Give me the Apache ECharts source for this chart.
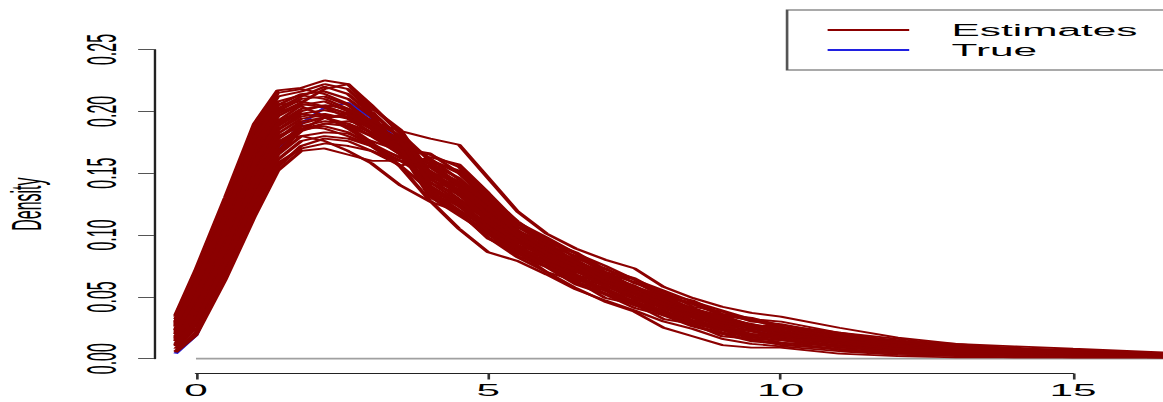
<!DOCTYPE html>
<html>
<head>
<meta charset="utf-8">
<script src="https://cdn.jsdelivr.net/npm/echarts@6/dist/echarts.min.js"></script>
<style>
html,body{margin:0;padding:0;overflow:hidden;background:#fff;width:1163px;height:402px;}
#c{width:439px;height:402px;transform:scaleX(2.6492);transform-origin:0 0;}
</style>
</head>
<body>
<div id="c"></div>
<script>
// ---- data ----
const xGrid = [-0.35, 0, 0.5, 1, 1.4, 1.8, 2.2, 2.6, 3, 3.5,
  4, 4.5, 5, 5.5, 6, 6.5, 7, 7.5, 8, 8.5, 9, 9.5, 10, 11, 12, 13, 14, 15, 16.6];

const est01 = [0.020,0.046,0.097,0.152,0.185,0.198,0.201,0.197,0.186,0.170, 0.149,0.134,0.118,0.097,0.086,0.071,0.063,0.052,0.045,0.035,0.029,0.024,0.020,0.014,0.010,0.007,0.005,0.004,0.002];
const est02 = [0.032,0.067,0.123,0.183,0.212,0.216,0.222,0.218,0.200,0.178, 0.143,0.127,0.112,0.090,0.081,0.066,0.059,0.048,0.041,0.031,0.026,0.019,0.017,0.012,0.007,0.006,0.004,0.003,0.002];
const est03 = [0.008,0.025,0.071,0.123,0.158,0.170,0.174,0.172,0.168,0.160, 0.151,0.142,0.118,0.101,0.086,0.077,0.063,0.057,0.045,0.039,0.030,0.027,0.021,0.016,0.010,0.008,0.006,0.005,0.003];
const est04 = [0.026,0.056,0.110,0.168,0.200,0.210,0.212,0.205,0.192,0.172, 0.136,0.120,0.105,0.086,0.077,0.062,0.055,0.044,0.037,0.028,0.023,0.016,0.015,0.009,0.006,0.004,0.003,0.002,0.001];
const est05 = [0.014,0.036,0.084,0.138,0.172,0.188,0.192,0.190,0.183,0.172, 0.157,0.141,0.124,0.100,0.091,0.075,0.068,0.056,0.049,0.038,0.033,0.026,0.024,0.016,0.012,0.008,0.007,0.005,0.003];
const est06 = [0.035,0.072,0.130,0.190,0.217,0.219,0.225,0.222,0.203,0.185, 0.150,0.132,0.116,0.094,0.084,0.070,0.062,0.050,0.043,0.034,0.028,0.022,0.019,0.013,0.009,0.006,0.005,0.004,0.002];
const est07 = [0.005,0.019,0.064,0.115,0.152,0.168,0.170,0.165,0.160,0.160, 0.161,0.150,0.127,0.107,0.092,0.083,0.069,0.062,0.050,0.044,0.035,0.031,0.025,0.019,0.013,0.010,0.008,0.006,0.003];
const est08 = [0.023,0.051,0.103,0.160,0.192,0.205,0.208,0.200,0.186,0.166, 0.140,0.125,0.109,0.089,0.079,0.065,0.057,0.046,0.039,0.030,0.025,0.018,0.016,0.011,0.007,0.005,0.004,0.003,0.002];
const est09 = [0.017,0.041,0.090,0.145,0.178,0.192,0.195,0.190,0.180,0.165, 0.152,0.136,0.120,0.097,0.087,0.073,0.064,0.053,0.046,0.036,0.031,0.024,0.022,0.014,0.011,0.007,0.006,0.004,0.003];
const est10 = [0.029,0.062,0.117,0.175,0.205,0.214,0.216,0.210,0.196,0.170, 0.133,0.118,0.102,0.085,0.075,0.061,0.053,0.043,0.036,0.027,0.021,0.015,0.013,0.008,0.005,0.003,0.003,0.002,0.001];
const est11 = [0.011,0.030,0.077,0.130,0.165,0.180,0.183,0.182,0.176,0.168, 0.158,0.146,0.123,0.104,0.090,0.080,0.067,0.059,0.048,0.041,0.033,0.028,0.024,0.017,0.012,0.009,0.007,0.005,0.003];
const est12 = [0.021,0.049,0.100,0.156,0.188,0.200,0.205,0.202,0.192,0.175, 0.146,0.129,0.113,0.092,0.083,0.068,0.060,0.049,0.042,0.033,0.027,0.020,0.018,0.012,0.008,0.006,0.004,0.003,0.002];
const est13 = [0.024,0.054,0.107,0.164,0.196,0.206,0.203,0.195,0.182,0.165, 0.138,0.123,0.107,0.087,0.078,0.064,0.056,0.045,0.038,0.029,0.024,0.017,0.015,0.010,0.006,0.004,0.003,0.002,0.002];
const est14 = [0.015,0.038,0.087,0.141,0.175,0.186,0.190,0.192,0.188,0.178, 0.162,0.145,0.128,0.103,0.094,0.078,0.070,0.058,0.051,0.040,0.035,0.027,0.026,0.018,0.013,0.009,0.007,0.006,0.003];
const est15 = [0.018,0.043,0.094,0.149,0.182,0.194,0.197,0.195,0.186,0.170, 0.147,0.137,0.114,0.098,0.083,0.074,0.061,0.054,0.042,0.037,0.027,0.025,0.019,0.015,0.009,0.007,0.006,0.004,0.003];
const est16 = [0.027,0.059,0.113,0.171,0.202,0.212,0.220,0.214,0.198,0.168, 0.131,0.116,0.101,0.083,0.074,0.060,0.052,0.041,0.035,0.026,0.020,0.014,0.012,0.007,0.004,0.003,0.002,0.002,0.001];
const est17 = [0.010,0.028,0.074,0.126,0.161,0.176,0.180,0.178,0.172,0.163, 0.160,0.152,0.129,0.109,0.094,0.085,0.070,0.064,0.051,0.045,0.036,0.032,0.026,0.020,0.014,0.011,0.008,0.006,0.004];
const est18 = [0.030,0.064,0.120,0.179,0.208,0.213,0.210,0.202,0.188,0.168, 0.137,0.128,0.106,0.092,0.077,0.068,0.055,0.049,0.038,0.033,0.023,0.020,0.016,0.010,0.007,0.005,0.003,0.003,0.002];
const est19 = [0.012,0.033,0.080,0.134,0.168,0.184,0.190,0.188,0.180,0.168, 0.155,0.139,0.122,0.098,0.089,0.074,0.066,0.054,0.047,0.037,0.032,0.025,0.023,0.015,0.011,0.008,0.006,0.004,0.003];
const est20 = [0.020,0.046,0.097,0.152,0.185,0.196,0.198,0.194,0.183,0.168, 0.165,0.155,0.131,0.111,0.095,0.086,0.072,0.065,0.052,0.047,0.036,0.033,0.027,0.021,0.014,0.012,0.008,0.007,0.004];
const est21 = [0.023,0.051,0.103,0.160,0.190,0.198,0.195,0.188,0.175,0.155, 0.128,0.105,0.086,0.079,0.068,0.056,0.047,0.039,0.030,0.024,0.016,0.012,0.010,0.006,0.003,0.002,0.001,0.001,0.001];
const est22 = [0.017,0.041,0.090,0.145,0.178,0.190,0.195,0.196,0.192,0.184, 0.178,0.173,0.146,0.119,0.101,0.089,0.080,0.073,0.058,0.049,0.042,0.037,0.034,0.025,0.017,0.012,0.010,0.008,0.005];
const est23 = [0.014,0.036,0.084,0.138,0.172,0.185,0.188,0.183,0.172,0.156, 0.136,0.118,0.098,0.082,0.070,0.057,0.046,0.038,0.025,0.018,0.011,0.009,0.009,0.004,0.002,0.001,0.001,0.001,0.001];
const est24 = [0.034,0.070,0.127,0.186,0.215,0.218,0.214,0.206,0.190,0.170, 0.133,0.124,0.103,0.089,0.074,0.066,0.052,0.047,0.035,0.031,0.021,0.018,0.013,0.010,0.005,0.004,0.003,0.002,0.002];
const est25 = [0.006,0.021,0.067,0.119,0.155,0.172,0.178,0.176,0.168,0.156, 0.163,0.157,0.134,0.110,0.098,0.085,0.075,0.064,0.055,0.046,0.039,0.032,0.030,0.021,0.016,0.011,0.009,0.006,0.004];
const est26 = [0.026,0.056,0.110,0.168,0.198,0.207,0.218,0.222,0.205,0.182, 0.160,0.140,0.121,0.103,0.088,0.078,0.065,0.058,0.047,0.040,0.031,0.028,0.022,0.017,0.011,0.009,0.006,0.005,0.003];
const est27 = [0.018,0.043,0.094,0.149,0.180,0.188,0.186,0.180,0.172,0.160, 0.145,0.135,0.112,0.096,0.082,0.072,0.059,0.053,0.041,0.036,0.027,0.023,0.018,0.014,0.009,0.007,0.005,0.004,0.002];
const est28 = [0.011,0.030,0.077,0.130,0.166,0.185,0.195,0.198,0.193,0.180, 0.149,0.139,0.116,0.099,0.085,0.075,0.062,0.055,0.044,0.038,0.029,0.025,0.020,0.015,0.010,0.008,0.005,0.004,0.003];
const est29 = [0.030,0.064,0.120,0.178,0.205,0.208,0.204,0.198,0.190,0.176, 0.142,0.133,0.110,0.095,0.080,0.071,0.058,0.052,0.040,0.035,0.025,0.022,0.017,0.013,0.008,0.006,0.005,0.004,0.002];
const est30 = [0.022,0.050,0.102,0.158,0.190,0.202,0.204,0.198,0.186,0.170, 0.166,0.150,0.132,0.106,0.097,0.081,0.073,0.061,0.054,0.042,0.038,0.030,0.028,0.019,0.015,0.010,0.008,0.007,0.004];
const est31 = [0.016,0.040,0.089,0.144,0.176,0.180,0.176,0.168,0.158,0.140, 0.127,0.119,0.097,0.086,0.070,0.063,0.049,0.044,0.032,0.028,0.018,0.016,0.011,0.008,0.004,0.003,0.002,0.001,0.001];
const est32 = [0.028,0.060,0.115,0.173,0.200,0.204,0.196,0.186,0.174,0.162, 0.155,0.143,0.126,0.101,0.092,0.077,0.069,0.057,0.050,0.039,0.034,0.027,0.025,0.017,0.013,0.009,0.007,0.005,0.003];

const trueDensity = [0.004,0.019,0.072,0.130,0.167,0.190,0.203,0.207,0.195,0.175, 0.150,0.135,0.117,0.097,0.085,0.073,0.062,0.053,0.044,0.036,0.029,0.024,0.020,0.014,0.0095,0.007,0.005,0.004,0.0025];

const zeroLineX = [0, 16.6];
const xTicks = [0, 5, 10, 15];
const yTickLabels = ['0.00', '0.05', '0.10', '0.15', '0.20', '0.25'];
const legendNames = ['Estimates', 'True'];
const yTitle = 'Density';

const estimates = [est01, est02, est03, est04, est05, est06, est07, est08, est09, est10,
  est11, est12, est13, est14, est15, est16, est17, est18, est19, est20,
  est21, est22, est23, est24, est25, est26, est27, est28, est29, est30, est31, est32];

// ---- chart ----
const FONT = '"Liberation Sans", Arial, sans-serif';
const pair = arr => xGrid.map((x, i) => [x, arr[i]]);

const series = [];
series.push({
  name: 'zero', type: 'line', xAxisIndex: 0, yAxisIndex: 0, silent: true,
  symbol: 'none', lineStyle: { color: '#a0a0a0', width: 1.6 },
  data: zeroLineX.map(x => [x, 0]), z: 1
});
series.push({
  name: legendNames[1], type: 'line', xAxisIndex: 0, yAxisIndex: 0, silent: true,
  symbol: 'none', color: '#2020e0', lineStyle: { color: '#2020e0', width: 1.8 },
  data: pair(trueDensity), z: 2
});
estimates.forEach(arr => {
  series.push({
    name: legendNames[0], type: 'line', xAxisIndex: 0, yAxisIndex: 0, silent: true,
    symbol: 'none', color: '#8B0000', lineStyle: { color: '#8B0000', width: 1.8 },
    data: pair(arr), z: 3
  });
});

const chart = echarts.init(document.getElementById('c'), null, { renderer: 'svg' });
chart.setOption({
  animation: false,
  backgroundColor: '#fff',
  grid: [
    { left: 58.13, right: 0, top: 49.5, bottom: 28.5, outerBoundsMode: 'none' },
    { left: 58.13, width: 10, top: 49.5, height: 309.2, outerBoundsMode: 'none' },
    { left: 73.98, width: 331.05, bottom: 28.5, height: 10, outerBoundsMode: 'none' }
  ],
  xAxis: [
    { gridIndex: 0, type: 'value', min: -0.718, max: 16.54, show: false },
    { gridIndex: 1, type: 'value', show: false },
    {
      gridIndex: 2, type: 'value', min: 0, max: 15, interval: 5, position: 'bottom',
      axisLine: { show: true, lineStyle: { color: '#222', width: 1 } },
      axisTick: { show: true, length: 6, lineStyle: { color: '#333', width: 1 } },
      axisLabel: { show: true, margin: 9, fontSize: 16, color: '#000', fontFamily: FONT,
        formatter: v => (xTicks.indexOf(v) >= 0 ? String(v) : '') },
      splitLine: { show: false }
    }
  ],
  yAxis: [
    { gridIndex: 0, type: 'value', min: -0.012, max: 0.25, show: false },
    {
      gridIndex: 1, type: 'value', min: 0, max: 0.25, interval: 0.05,
      axisLine: { show: true, lineStyle: { color: '#222', width: 0.9 } },
      axisTick: { show: true, length: 6, lineStyle: { color: '#555', width: 1 } },
      axisLabel: { show: true, rotate: 90, margin: 12, fontSize: 16, color: '#000', fontFamily: FONT,
        formatter: v => yTickLabels[Math.round(v / 0.05)] },
      splitLine: { show: false },
      name: yTitle, nameLocation: 'middle', nameGap: 40,
      nameTextStyle: { fontSize: 16, color: '#000', fontFamily: FONT }
    },
    { gridIndex: 2, type: 'value', show: false }
  ],
  legend: {
    show: true, left: 297.1, top: 10, orient: 'vertical',
    data: legendNames, selectedMode: false, icon: 'rect',
    itemWidth: 30.8, itemHeight: 2, itemGap: 0,
    padding: [10, 40, 10, 15.3],
    borderColor: '#555', borderWidth: 1, backgroundColor: '#fff',
    textStyle: { fontSize: 16, color: '#000', fontFamily: FONT, lineHeight: 20, padding: [0, 0, 0, 11] }
  },
  series: series
});
</script>
</body>
</html>
